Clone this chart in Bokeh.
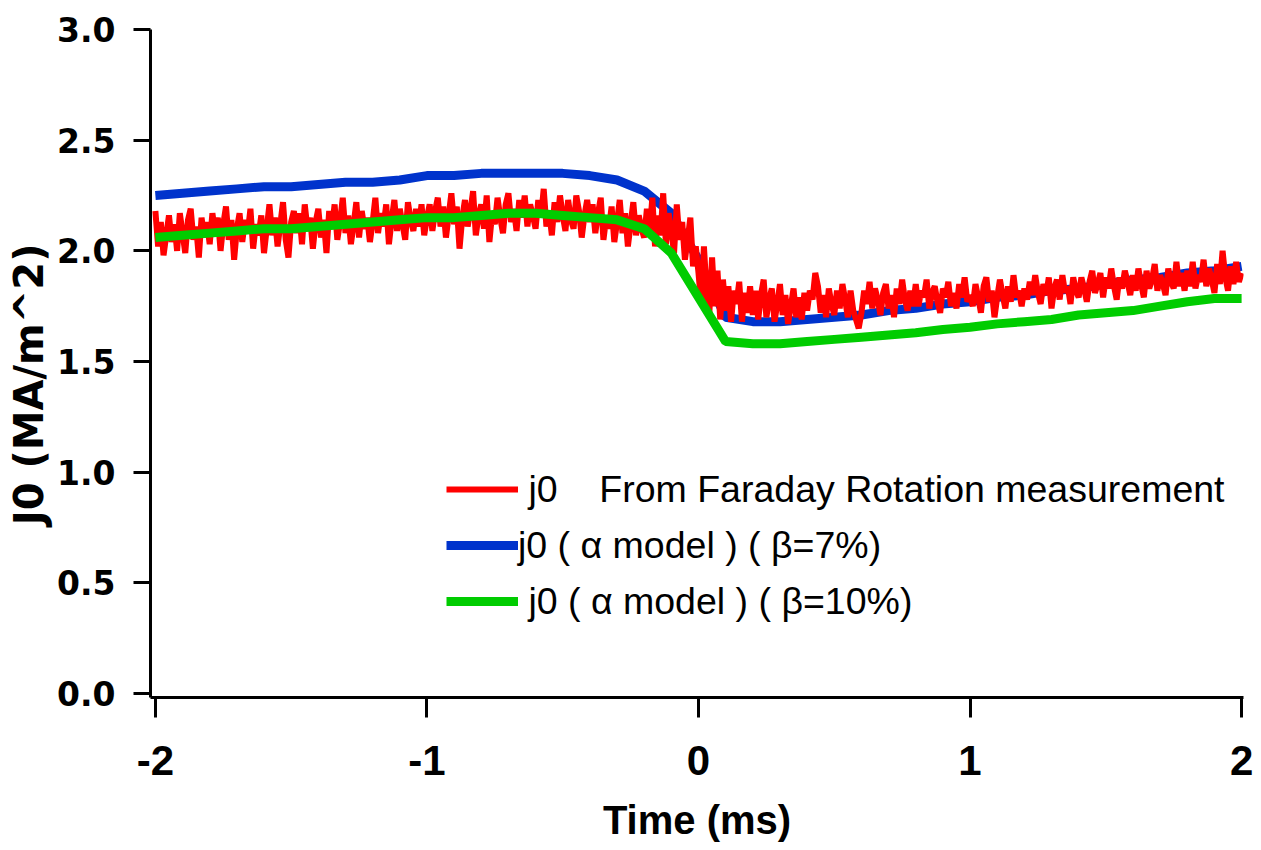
import numpy as np
from bokeh.plotting import figure
from bokeh.models import Range1d, FixedTicker, Legend, LegendItem
from bokeh.embed import file_html
from bokeh.resources import INLINE

# ---- data ----
t_model = [round(-2.0 + 0.1 * i, 2) for i in range(41)]
j0_beta7 = [2.25, 2.26, 2.27, 2.28, 2.29, 2.29, 2.30, 2.31, 2.31, 2.32,
            2.34, 2.34, 2.35, 2.35, 2.35, 2.35, 2.34, 2.32, 2.27, 2.17,
            1.96, 1.70, 1.68, 1.68, 1.69, 1.70, 1.71, 1.73, 1.74, 1.76,
            1.77, 1.79, 1.80, 1.82, 1.83, 1.85, 1.87, 1.88, 1.90, 1.91,
            1.93]
j0_beta10 = [2.06, 2.07, 2.08, 2.09, 2.10, 2.10, 2.11, 2.12, 2.13, 2.14,
             2.15, 2.15, 2.16, 2.17, 2.17, 2.16, 2.15, 2.14, 2.10, 1.99,
             1.79, 1.59, 1.58, 1.58, 1.59, 1.60, 1.61, 1.62, 1.63, 1.645,
             1.655, 1.67, 1.68, 1.69, 1.71, 1.72, 1.73, 1.75, 1.77, 1.785,
             1.785]

t_meas = [round(-2.0 + 0.01 * i, 2) for i in range(401)]
j0_faraday = [
    2.18, 2.02, 2.13, 1.98, 2.07, 2.16, 2.04, 2.12, 2.00, 2.17, 2.08, 1.99, 2.14, 2.19, 2.05, 2.11, 1.97, 2.15, 2.06, 2.13,
    2.03, 2.17, 2.08, 2.15, 2.00, 2.12, 2.20, 2.05, 2.14, 1.96, 2.10, 2.17, 2.04, 2.14, 2.08, 2.19, 2.01, 2.12, 2.07, 2.16,
    1.99, 2.10, 2.21, 2.07, 2.15, 2.02, 2.12, 2.22, 2.05, 1.97, 2.13, 2.18, 2.08, 2.17, 2.03, 2.21, 2.10, 2.15, 2.01, 2.13,
    2.19, 2.06, 2.14, 1.99, 2.18, 2.10, 2.21, 2.05, 2.13, 2.24, 2.08, 2.16, 2.03, 2.12, 2.22, 2.06, 2.18, 2.10, 2.15, 2.04,
    2.13, 2.24, 2.08, 2.17, 2.11, 2.21, 2.03, 2.14, 2.23, 2.09, 2.19, 2.12, 2.05, 2.22, 2.14, 2.09, 2.19, 2.11, 2.21, 2.07,
    2.15, 2.21, 2.09, 2.18, 2.24, 2.11, 2.20, 2.06, 2.16, 2.26, 2.12, 2.20, 2.01, 2.15, 2.23, 2.11, 2.18, 2.27, 2.07, 2.16,
    2.21, 2.10, 2.25, 2.04, 2.17, 2.12, 2.24, 2.15, 2.08, 2.21, 2.26, 2.13, 2.19, 2.09, 2.23, 2.15, 2.25, 2.11, 2.21, 2.16,
    2.10, 2.23, 2.15, 2.28, 2.11, 2.18, 2.07, 2.22, 2.13, 2.25, 2.16, 2.09, 2.23, 2.14, 2.10, 2.25, 2.18, 2.06, 2.16, 2.23,
    2.13, 2.21, 2.08, 2.17, 2.24, 2.05, 2.15, 2.10, 2.20, 2.04, 2.13, 2.23, 2.08, 2.17, 2.02, 2.12, 2.22, 2.07, 2.16, 2.10,
    2.06, 2.19, 2.08, 2.24, 2.02, 2.16, 2.07, 2.26, 2.03, 2.17, 2.09, 1.99, 2.21, 2.05, 2.13, 1.96, 2.05, 2.15, 1.93, 2.02,
    1.90, 1.76, 2.02, 1.81, 1.72, 1.97, 1.75, 1.91, 1.69, 1.87, 1.73, 1.84, 1.68, 1.82, 1.76, 1.86, 1.68, 1.81, 1.72, 1.84,
    1.71, 1.82, 1.69, 1.80, 1.87, 1.70, 1.78, 1.83, 1.68, 1.76, 1.85, 1.71, 1.80, 1.67, 1.75, 1.83, 1.70, 1.79, 1.69, 1.81,
    1.73, 1.82, 1.78, 1.90, 1.84, 1.72, 1.80, 1.70, 1.83, 1.76, 1.71, 1.82, 1.74, 1.85, 1.78, 1.70, 1.82, 1.73, 1.69, 1.65,
    1.72, 1.82, 1.76, 1.86, 1.74, 1.83, 1.78, 1.71, 1.81, 1.85, 1.74, 1.80, 1.70, 1.83, 1.76, 1.87, 1.78, 1.73, 1.82, 1.75,
    1.85, 1.75, 1.82, 1.79, 1.87, 1.74, 1.81, 1.84, 1.77, 1.72, 1.83, 1.79, 1.86, 1.75, 1.81, 1.74, 1.85, 1.79, 1.88, 1.77,
    1.80, 1.75, 1.85, 1.79, 1.72, 1.84, 1.88, 1.77, 1.82, 1.70, 1.79, 1.87, 1.80, 1.74, 1.84, 1.77, 1.89, 1.79, 1.82, 1.75,
    1.83, 1.78, 1.86, 1.80, 1.89, 1.81, 1.76, 1.85, 1.80, 1.88, 1.74, 1.83, 1.87, 1.78, 1.89, 1.81, 1.84, 1.76, 1.88, 1.82,
    1.79, 1.88, 1.83, 1.77, 1.86, 1.91, 1.81, 1.85, 1.90, 1.79, 1.88, 1.83, 1.92, 1.84, 1.78, 1.88, 1.83, 1.91, 1.86, 1.80,
    1.89, 1.82, 1.92, 1.85, 1.79, 1.91, 1.83, 1.87, 1.94, 1.82, 1.89, 1.85, 1.80, 1.92, 1.86, 1.83, 1.95, 1.84, 1.90, 1.82,
    1.91, 1.84, 1.95, 1.83, 1.89, 1.86, 1.96, 1.84, 1.92, 1.87, 1.81, 1.94, 1.85, 2.00, 1.88, 1.82, 1.93, 1.85, 1.95, 1.86,
    1.90,
]

x_ticks = [-2, -1, 0, 1, 2]
y_ticks = [0.0, 0.5, 1.0, 1.5, 2.0, 2.5, 3.0]

label_faraday = "\u00a0j0\u00a0\u00a0\u00a0\u00a0From Faraday Rotation measurement"
label_b7 = "j0 ( \u03b1 model ) ( \u03b2=7%)"
label_b10 = "\u00a0j0 ( \u03b1 model ) ( \u03b2=10%)"

# ---- figure ----
p = figure(width=1261, height=850, output_backend="svg", toolbar_location=None,
           x_range=Range1d(-2.018, 2.007), y_range=Range1d(-0.018, 3.0),
           min_border_left=150, min_border_right=18, min_border_top=29,
           min_border_bottom=153)
p.frame_width = 1093
p.frame_height = 668
p.outline_line_color = None
p.grid.visible = False
p.background_fill_color = "white"
p.border_fill_color = "white"

r_b7 = p.line(t_model, j0_beta7, line_color="#0033cc", line_width=9)
r_f = p.line(t_meas, j0_faraday, line_color="#ff0000", line_width=6)
r_b10 = p.line(t_model, j0_beta10, line_color="#00cc00", line_width=9)

# axes
for ax in (p.xaxis[0], p.yaxis[0]):
    ax.axis_line_width = 3
    ax.axis_line_color = "black"
    ax.major_tick_line_width = 3
    ax.major_tick_line_color = "black"
    ax.major_tick_in = 0
    ax.minor_tick_line_color = None
    ax.major_label_text_color = "black"
    ax.axis_label_text_color = "black"
    ax.axis_label_text_font_style = "bold"
    ax.major_label_text_font_style = "bold"

xa = p.xaxis[0]
xa.ticker = FixedTicker(ticks=x_ticks)
xa.major_label_overrides = {-2: "-2", -1: "-1", 0: "0", 1: "1", 2: "2"}
xa.major_tick_out = 20
xa.major_label_standoff = 28
xa.major_label_text_font = "Liberation Sans"
xa.major_label_text_font_size = "42px"
xa.axis_label = "Time (ms)"
xa.axis_label_text_font = "Liberation Sans"
xa.axis_label_text_font_size = "40px"
xa.axis_label_standoff = 20

ya = p.yaxis[0]
ya.ticker = FixedTicker(ticks=y_ticks)
ya.major_label_overrides = {0.0: "0.0", 0.5: "0.5", 1.0: "1.0", 1.5: "1.5",
                            2.0: "2.0", 2.5: "2.5", 3.0: "3.0"}
ya.major_tick_out = 17
ya.major_label_standoff = 18
ya.major_label_text_font = "DejaVu Sans"
ya.major_label_text_font_size = "33px"
ya.axis_label = "J0 (MA/m^2)\u00a0\u00a0\u00a0"
ya.axis_label_text_font = "DejaVu Sans"
ya.axis_label_text_font_size = "40px"
ya.axis_label_standoff = 2

legend = Legend(items=[
    LegendItem(label=label_faraday, renderers=[r_f]),
    LegendItem(label=label_b7, renderers=[r_b7]),
    LegendItem(label=label_b10, renderers=[r_b10]),
], location=(296, 68))
legend.border_line_color = None
legend.background_fill_alpha = 0
legend.padding = 0
legend.margin = 0
legend.spacing = 0
legend.glyph_width = 72
legend.glyph_height = 20
legend.label_height = 56
legend.label_standoff = 0
legend.label_text_font = "Liberation Sans"
legend.label_text_font_size = "37.5px"
legend.label_text_color = "black"
p.add_layout(legend, "center")

open("out.html", "w").write(file_html(p, INLINE))
